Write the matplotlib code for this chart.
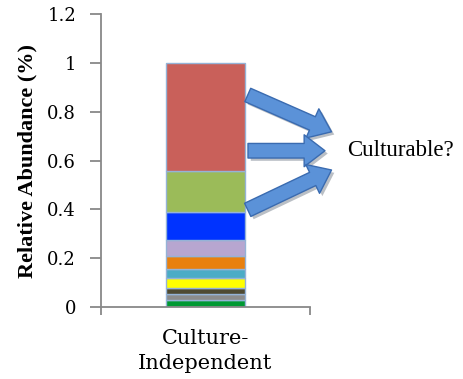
import matplotlib.pyplot as plt
from matplotlib.patches import FancyArrowPatch
import matplotlib.patheffects as pe

# stacked composition, bottom to top
segmentos = [0.029, 0.025, 0.025, 0.041, 0.037, 0.053, 0.066, 0.115, 0.164, 0.445]
cores = ['#009933', '#8c8c8c', '#4f4a32', '#ffff00', '#4bacc6', '#e8800e',
         '#b7a6d0', '#0033ff', '#9bbb59', '#c9605a']
categoria = 'Culture-\nIndependent'
yticks = [0, 0.2, 0.4, 0.6, 0.8, 1, 1.2]
ytick_labels = ['0', '0.2', '0.4', '0.6', '0.8', '1', '1.2']

# arrows from the bar to the label: (x0, y0, x1, y1) in data units
setas = [(0.19, 0.873, 0.615, 0.713),
         (0.19, 0.640, 0.585, 0.640),
         (0.19, 0.393, 0.615, 0.566)]

fig = plt.figure(figsize=(4.64, 3.79), dpi=100)
ax = fig.add_axes([0.2177, 0.190, 0.4504, 0.773])

base = 0
for v, c in zip(segmentos, cores):
    ax.bar(0, v, width=0.38, bottom=base, color=c, edgecolor='#95b3d7', linewidth=1.0)
    base += v

ax.set_xlim(-0.5, 0.5)
ax.set_ylim(0, 1.2)
ax.set_yticks(yticks)
ax.set_yticklabels(ytick_labels, fontfamily='DejaVu Serif', fontsize=13)
ax.set_xticks([0])
ax.set_xticklabels([categoria], fontfamily='DejaVu Serif', fontsize=15, linespacing=1.4)
ax.set_xticks([-0.5, 0.5], minor=True)
ax.tick_params(axis='x', which='major', length=0, pad=16)
ax.tick_params(axis='x', which='minor', length=6, width=1.3, color='#888888', direction='out')
ax.tick_params(axis='y', length=8, width=1.3, color='#888888', pad=10)

for s in ['top', 'right']:
    ax.spines[s].set_visible(False)
for s in ['left', 'bottom']:
    ax.spines[s].set_color('#888888')
    ax.spines[s].set_linewidth(1.3)

ax.set_ylabel('Relative Abundance (%)', fontfamily='Liberation Serif', fontweight='bold',
              fontsize=16)
ax.yaxis.set_label_coords(-0.305, 0.5)

for x0, y0, x1, y1 in setas:
    a = FancyArrowPatch((x0, y0), (x1, y1),
                        arrowstyle='simple,head_length=15,head_width=23,tail_width=10.5',
                        facecolor='#5b92d8', edgecolor='#3a6bb0', linewidth=1.0,
                        clip_on=False, zorder=5,
                        path_effects=[pe.SimplePatchShadow(offset=(2, -2), alpha=0.3), pe.Normal()])
    ax.add_patch(a)

ax.text(0.68, 0.64, 'Culturable?', fontfamily='Liberation Serif', fontsize=16.5,
        va='center', ha='left', clip_on=False)

fig.savefig('out.png', dpi=100)
